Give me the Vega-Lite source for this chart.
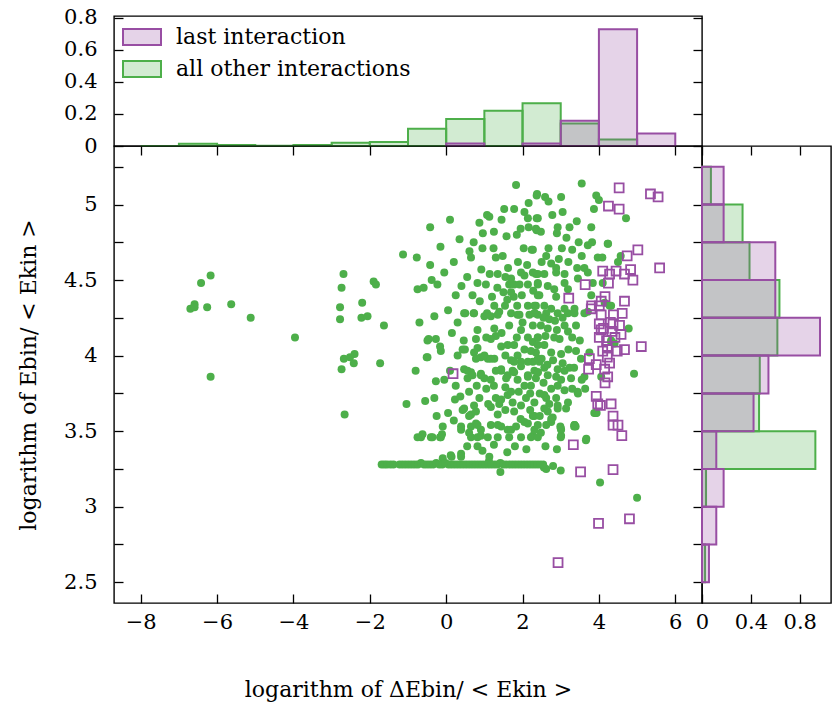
{
  "$schema": "https://vega.github.io/schema/vega-lite/v6.json",
  "autosize": {"type": "pad"},
  "padding": {"left": 16, "top": 5, "right": 2, "bottom": 10},
  "background": "white",
  "bounds": "flush",
  "spacing": 0,
  "config": {
    "font": "DejaVu Serif",
    "view": {"stroke": "black", "strokeWidth": 1.4},
    "axis": {
      "domain": false, "offset": -9, "tickColor": "black", "tickWidth": 1.3,
      "tickSize": 9, "labelColor": "black", "titleColor": "black",
      "labelFont": "DejaVu Serif", "titleFont": "DejaVu Serif",
      "labelFontSize": 21, "titleFontSize": 22, "titleFontWeight": "normal",
      "grid": false, "labelFlush": false, "labelOverlap": false, "labelBound": false
    },
    "legend": {"labelFont": "DejaVu Serif", "labelFontSize": 22, "labelColor": "black", "labelLimit": 500}
  },
  "datasets": {
    "tophist": [
      {"g": "all other interactions", "x0": -8, "x1": -7, "d": 0},
      {"g": "all other interactions", "x0": -7, "x1": -6, "d": 0.014},
      {"g": "all other interactions", "x0": -6, "x1": -5, "d": 0.006},
      {"g": "all other interactions", "x0": -5, "x1": -4, "d": 0.002},
      {"g": "all other interactions", "x0": -4, "x1": -3, "d": 0.006},
      {"g": "all other interactions", "x0": -3, "x1": -2, "d": 0.02},
      {"g": "all other interactions", "x0": -2, "x1": -1, "d": 0.025},
      {"g": "all other interactions", "x0": -1, "x1": 0, "d": 0.107},
      {"g": "all other interactions", "x0": 0, "x1": 1, "d": 0.168},
      {"g": "all other interactions", "x0": 1, "x1": 2, "d": 0.22},
      {"g": "all other interactions", "x0": 2, "x1": 3, "d": 0.267},
      {"g": "all other interactions", "x0": 3, "x1": 4, "d": 0.14},
      {"g": "all other interactions", "x0": 4, "x1": 5, "d": 0.041},
      {"g": "all other interactions", "x0": 5, "x1": 6, "d": 0},
      {"g": "last interaction", "x0": 0, "x1": 1, "d": 0.016},
      {"g": "last interaction", "x0": 2, "x1": 3, "d": 0.016},
      {"g": "last interaction", "x0": 3, "x1": 4, "d": 0.158},
      {"g": "last interaction", "x0": 4, "x1": 5, "d": 0.728},
      {"g": "last interaction", "x0": 5, "x1": 6, "d": 0.078}
    ],
    "sidehist": [
      {"g": "all other interactions", "y0": 5, "y1": 5.25, "d": 0.073},
      {"g": "all other interactions", "y0": 4.75, "y1": 5, "d": 0.332},
      {"g": "all other interactions", "y0": 4.5, "y1": 4.75, "d": 0.389},
      {"g": "all other interactions", "y0": 4.25, "y1": 4.5, "d": 0.634},
      {"g": "all other interactions", "y0": 4, "y1": 4.25, "d": 0.617},
      {"g": "all other interactions", "y0": 3.75, "y1": 4, "d": 0.473},
      {"g": "all other interactions", "y0": 3.5, "y1": 3.75, "d": 0.467},
      {"g": "all other interactions", "y0": 3.25, "y1": 3.5, "d": 0.928},
      {"g": "all other interactions", "y0": 3, "y1": 3.25, "d": 0.033},
      {"g": "all other interactions", "y0": 2.75, "y1": 3, "d": 0},
      {"g": "all other interactions", "y0": 2.5, "y1": 2.75, "d": 0.025},
      {"g": "last interaction", "y0": 5, "y1": 5.25, "d": 0.177},
      {"g": "last interaction", "y0": 4.75, "y1": 5, "d": 0.177},
      {"g": "last interaction", "y0": 4.5, "y1": 4.75, "d": 0.6},
      {"g": "last interaction", "y0": 4.25, "y1": 4.5, "d": 0.6},
      {"g": "last interaction", "y0": 4, "y1": 4.25, "d": 0.966},
      {"g": "last interaction", "y0": 3.75, "y1": 4, "d": 0.544},
      {"g": "last interaction", "y0": 3.5, "y1": 3.75, "d": 0.422},
      {"g": "last interaction", "y0": 3.25, "y1": 3.5, "d": 0.117},
      {"g": "last interaction", "y0": 3, "y1": 3.25, "d": 0.177},
      {"g": "last interaction", "y0": 2.75, "y1": 3, "d": 0.117},
      {"g": "last interaction", "y0": 2.5, "y1": 2.75, "d": 0.057}
    ],
    "last": [
      {"x": 4.53, "y": 5.11}, {"x": 5.35, "y": 5.07}, {"x": 5.55, "y": 5.05}, {"x": 4.25, "y": 4.99}, {"x": 4.53, "y": 4.97},
      {"x": 5.02, "y": 4.70}, {"x": 4.74, "y": 4.66}, {"x": 5.59, "y": 4.58}, {"x": 4.10, "y": 4.56}, {"x": 4.45, "y": 4.56},
      {"x": 4.83, "y": 4.57}, {"x": 4.28, "y": 4.54}, {"x": 4.67, "y": 4.54}, {"x": 4.89, "y": 4.50}, {"x": 4.25, "y": 4.48},
      {"x": 3.64, "y": 4.47}, {"x": 3.21, "y": 4.38}, {"x": 4.16, "y": 4.39}, {"x": 4.06, "y": 4.36}, {"x": 4.67, "y": 4.36},
      {"x": 3.81, "y": 4.33}, {"x": 4.01, "y": 4.33}, {"x": 4.06, "y": 4.27}, {"x": 4.38, "y": 4.27}, {"x": 4.61, "y": 4.28},
      {"x": 3.80, "y": 4.31}, {"x": 4.01, "y": 4.21}, {"x": 4.37, "y": 4.21}, {"x": 4.54, "y": 4.20}, {"x": 4.34, "y": 4.16},
      {"x": 4.06, "y": 4.17}, {"x": 4.01, "y": 4.12}, {"x": 4.22, "y": 4.06}, {"x": 4.48, "y": 4.03}, {"x": 4.67, "y": 4.04},
      {"x": 5.11, "y": 4.06}, {"x": 4.22, "y": 3.99}, {"x": 3.75, "y": 3.98}, {"x": 3.93, "y": 3.94}, {"x": 3.73, "y": 3.91},
      {"x": 4.15, "y": 3.91}, {"x": 4.23, "y": 3.86}, {"x": 4.16, "y": 3.82}, {"x": 3.93, "y": 3.73}, {"x": 3.97, "y": 3.68},
      {"x": 4.04, "y": 3.67}, {"x": 4.32, "y": 3.68}, {"x": 4.37, "y": 3.60}, {"x": 4.37, "y": 3.54}, {"x": 4.50, "y": 3.54},
      {"x": 4.60, "y": 3.47}, {"x": 3.33, "y": 3.41}, {"x": 3.52, "y": 3.23}, {"x": 4.37, "y": 3.245}, {"x": 0.18, "y": 3.88},
      {"x": 3.99, "y": 2.89}, {"x": 4.80, "y": 2.92}, {"x": 2.93, "y": 2.63}, {"x": 4.20, "y": 4.10}, {"x": 4.42, "y": 4.12},
      {"x": 4.10, "y": 4.03}, {"x": 4.30, "y": 4.22}, {"x": 4.58, "y": 4.14}, {"x": 4.12, "y": 4.18}, {"x": 4.28, "y": 3.95}
    ],
    "other": [
      {"x": -1.13, "y": 4.67}, {"x": -6.17, "y": 4.53}, {"x": -2.69, "y": 4.54}, {"x": -6.42, "y": 4.48}, {"x": -2.74, "y": 4.45},
      {"x": -1.90, "y": 4.49}, {"x": -1.84, "y": 4.47}, {"x": -6.59, "y": 4.34}, {"x": -6.70, "y": 4.31}, {"x": -6.59, "y": 4.32},
      {"x": -6.26, "y": 4.32}, {"x": -5.63, "y": 4.34}, {"x": -5.12, "y": 4.25}, {"x": -3.96, "y": 4.12}, {"x": -2.78, "y": 4.32},
      {"x": -2.78, "y": 4.24}, {"x": -2.20, "y": 4.35}, {"x": -2.22, "y": 4.25}, {"x": -2.06, "y": 4.26}, {"x": -1.63, "y": 4.20},
      {"x": -6.17, "y": 3.86}, {"x": -2.68, "y": 3.98}, {"x": -2.40, "y": 4.01}, {"x": -2.52, "y": 3.99}, {"x": -2.42, "y": 3.95},
      {"x": -2.74, "y": 3.91}, {"x": -1.73, "y": 3.95}, {"x": -2.66, "y": 3.61}, {"x": -1.04, "y": 3.68},
      {"x": -0.77, "y": 4.65}, {"x": -0.42, "y": 4.85}, {"x": -0.42, "y": 4.60}, {"x": -0.38, "y": 4.50}, {"x": -0.23, "y": 4.47},
      {"x": -0.75, "y": 4.44}, {"x": -0.59, "y": 4.45}, {"x": -0.31, "y": 4.26}, {"x": -0.49, "y": 4.10}, {"x": -0.27, "y": 4.11},
      {"x": -0.14, "y": 4.03}, {"x": -0.16, "y": 4.06}, {"x": -0.51, "y": 3.99}, {"x": -0.31, "y": 3.72}, {"x": -0.66, "y": 3.46},
      {"x": -0.36, "y": 3.46}, {"x": -0.16, "y": 3.46}, {"x": 0.12, "y": 3.34},
      {"x": 1.83, "y": 5.13}, {"x": 2.37, "y": 5.06}, {"x": 2.16, "y": 5.01}, {"x": 1.52, "y": 4.97}, {"x": 1.78, "y": 4.97},
      {"x": 1.07, "y": 4.93}, {"x": 1.13, "y": 4.92}, {"x": 1.45, "y": 4.90}, {"x": 0.87, "y": 4.88}, {"x": 2.14, "y": 4.91},
      {"x": 2.37, "y": 4.91}, {"x": 2.16, "y": 4.85}, {"x": 2.37, "y": 4.83}, {"x": 0.96, "y": 4.81}, {"x": 1.85, "y": 4.80},
      {"x": 0.61, "y": 4.69}, {"x": 0.65, "y": 4.65}, {"x": 0.95, "y": 4.71}, {"x": 1.24, "y": 4.71}, {"x": 1.30, "y": 4.65},
      {"x": 2.03, "y": 4.71}, {"x": 2.24, "y": 4.70}, {"x": 0.92, "y": 4.57}, {"x": 0.55, "y": 4.52}, {"x": 1.14, "y": 4.54},
      {"x": 1.35, "y": 4.54}, {"x": 2.12, "y": 4.60}, {"x": 1.96, "y": 4.55}, {"x": 2.05, "y": 4.53}, {"x": 0.82, "y": 4.48},
      {"x": 1.04, "y": 4.47}, {"x": 1.34, "y": 4.45}, {"x": 1.65, "y": 4.47}, {"x": 1.78, "y": 4.47}, {"x": 1.92, "y": 4.47},
      {"x": 2.14, "y": 4.47}, {"x": 2.40, "y": 4.47}, {"x": 2.35, "y": 4.54}, {"x": 0.69, "y": 4.40}, {"x": 1.20, "y": 4.39},
      {"x": 0.88, "y": 4.36}, {"x": 1.77, "y": 4.39}, {"x": 1.98, "y": 4.40}, {"x": 2.40, "y": 4.40}, {"x": 0.50, "y": 4.28},
      {"x": 0.73, "y": 4.28}, {"x": 1.07, "y": 4.28}, {"x": 1.26, "y": 4.33}, {"x": 1.39, "y": 4.29}, {"x": 1.54, "y": 4.33},
      {"x": 1.86, "y": 4.33}, {"x": 2.14, "y": 4.33}, {"x": 2.35, "y": 4.33}, {"x": 1.92, "y": 4.27}, {"x": 2.18, "y": 4.27},
      {"x": 2.40, "y": 4.27}, {"x": 1.70, "y": 4.42}, {"x": 1.60, "y": 4.37}, {"x": 2.28, "y": 4.43}, {"x": 1.50, "y": 4.42},
      {"x": 3.55, "y": 5.14}, {"x": 2.38, "y": 5.07}, {"x": 2.59, "y": 5.05}, {"x": 2.68, "y": 5.02}, {"x": 3.01, "y": 5.05},
      {"x": 3.93, "y": 5.06}, {"x": 4.00, "y": 5.03}, {"x": 3.87, "y": 4.97}, {"x": 4.71, "y": 4.91}, {"x": 2.40, "y": 4.91},
      {"x": 3.42, "y": 4.89}, {"x": 2.35, "y": 4.84}, {"x": 2.48, "y": 4.82}, {"x": 2.92, "y": 4.85}, {"x": 2.90, "y": 4.81},
      {"x": 3.23, "y": 4.85}, {"x": 3.80, "y": 4.85}, {"x": 3.47, "y": 4.75}, {"x": 3.71, "y": 4.73}, {"x": 3.82, "y": 4.75},
      {"x": 4.24, "y": 4.74}, {"x": 2.68, "y": 4.71}, {"x": 3.03, "y": 4.71}, {"x": 2.27, "y": 4.70}, {"x": 3.97, "y": 4.65},
      {"x": 4.09, "y": 4.65}, {"x": 4.57, "y": 4.66}, {"x": 4.50, "y": 4.62}, {"x": 2.88, "y": 4.58}, {"x": 2.88, "y": 4.55},
      {"x": 3.10, "y": 4.54}, {"x": 2.40, "y": 4.54}, {"x": 2.57, "y": 4.54}, {"x": 2.27, "y": 4.55}, {"x": 3.43, "y": 4.58},
      {"x": 3.62, "y": 4.58}, {"x": 3.71, "y": 4.55}, {"x": 3.45, "y": 4.51}, {"x": 3.84, "y": 4.48}, {"x": 4.10, "y": 4.48},
      {"x": 2.40, "y": 4.48}, {"x": 2.66, "y": 4.46}, {"x": 2.83, "y": 4.44}, {"x": 3.10, "y": 4.48}, {"x": 3.19, "y": 4.44},
      {"x": 2.44, "y": 4.40}, {"x": 2.88, "y": 4.39}, {"x": 3.80, "y": 4.40}, {"x": 2.31, "y": 4.33}, {"x": 2.57, "y": 4.33},
      {"x": 2.75, "y": 4.31}, {"x": 3.10, "y": 4.31}, {"x": 3.36, "y": 4.31}, {"x": 3.71, "y": 4.29}, {"x": 4.32, "y": 4.33},
      {"x": 4.78, "y": 4.18}, {"x": 4.32, "y": 4.09}, {"x": 4.92, "y": 3.88}, {"x": 3.75, "y": 4.02}, {"x": 3.53, "y": 3.98},
      {"x": 3.62, "y": 3.86}, {"x": 4.06, "y": 3.86}, {"x": 3.64, "y": 3.78}, {"x": 3.45, "y": 3.75}, {"x": 3.88, "y": 3.62},
      {"x": 3.67, "y": 3.45}, {"x": 3.36, "y": 3.54}, {"x": 2.99, "y": 3.53}, {"x": 3.01, "y": 3.47}, {"x": 2.66, "y": 3.63},
      {"x": 2.79, "y": 3.59}, {"x": 2.75, "y": 3.56}, {"x": 2.62, "y": 3.54}, {"x": 2.57, "y": 3.65}, {"x": 2.31, "y": 3.60},
      {"x": 2.27, "y": 3.47}, {"x": 2.48, "y": 3.49}, {"x": 3.19, "y": 3.69}, {"x": 3.14, "y": 3.65}, {"x": 2.92, "y": 3.65},
      {"x": 2.62, "y": 3.72}, {"x": 2.88, "y": 3.72}, {"x": 3.23, "y": 3.92}, {"x": 3.10, "y": 3.90}, {"x": 2.88, "y": 3.86},
      {"x": 3.01, "y": 3.84}, {"x": 3.27, "y": 3.85}, {"x": 2.75, "y": 3.78}, {"x": 2.92, "y": 3.80}, {"x": 2.40, "y": 3.89},
      {"x": 2.35, "y": 3.85}, {"x": 2.22, "y": 3.80}, {"x": 2.32, "y": 4.28}, {"x": 2.62, "y": 4.28}, {"x": 2.92, "y": 4.28},
      {"x": 3.19, "y": 4.28}, {"x": 3.36, "y": 4.28}, {"x": 3.62, "y": 4.28}, {"x": 2.48, "y": 4.20}, {"x": 2.66, "y": 4.18},
      {"x": 3.10, "y": 4.20}, {"x": 3.19, "y": 4.16}, {"x": 2.97, "y": 4.11}, {"x": 2.83, "y": 4.12}, {"x": 2.40, "y": 4.12},
      {"x": 2.27, "y": 4.09}, {"x": 2.57, "y": 4.07}, {"x": 2.75, "y": 4.02}, {"x": 3.01, "y": 4.01}, {"x": 2.35, "y": 4.02},
      {"x": 2.27, "y": 3.96}, {"x": 2.44, "y": 3.96}, {"x": 2.57, "y": 3.92}, {"x": 4.32, "y": 4.10}, {"x": 4.41, "y": 4.08},
      {"x": 3.91, "y": 3.62}, {"x": 4.03, "y": 3.16}, {"x": 5.00, "y": 3.06}, {"x": 4.15, "y": 4.35}, {"x": 4.28, "y": 4.33},
      {"x": 4.23, "y": 4.74}, {"x": 3.50, "y": 4.10}, {"x": 3.40, "y": 4.20},
      {"x": 0.47, "y": 4.28}, {"x": 0.72, "y": 4.28}, {"x": 1.00, "y": 4.26}, {"x": 1.17, "y": 4.26}, {"x": 1.35, "y": 4.27},
      {"x": 1.70, "y": 4.28}, {"x": 1.87, "y": 4.27}, {"x": 2.31, "y": 4.28}, {"x": 0.82, "y": 4.17}, {"x": 0.78, "y": 4.11},
      {"x": 1.26, "y": 4.18}, {"x": 1.30, "y": 4.13}, {"x": 1.17, "y": 4.11}, {"x": 1.96, "y": 4.17}, {"x": 2.27, "y": 4.20},
      {"x": 2.14, "y": 4.12}, {"x": 2.40, "y": 4.12}, {"x": -0.46, "y": 4.11}, {"x": 0.46, "y": 4.10}, {"x": 0.49, "y": 4.04},
      {"x": -0.49, "y": 3.99}, {"x": 0.82, "y": 4.05}, {"x": 0.91, "y": 3.99}, {"x": 1.09, "y": 3.98}, {"x": 1.26, "y": 3.98},
      {"x": 1.44, "y": 4.06}, {"x": 1.61, "y": 4.07}, {"x": 1.78, "y": 4.07}, {"x": 1.87, "y": 4.00}, {"x": 2.05, "y": 4.04},
      {"x": 2.22, "y": 4.03}, {"x": 2.40, "y": 4.07}, {"x": 2.40, "y": 3.98}, {"x": 2.14, "y": 3.96}, {"x": 1.96, "y": 3.96},
      {"x": 1.78, "y": 3.96}, {"x": 0.47, "y": 3.91}, {"x": 0.65, "y": 3.89}, {"x": 0.56, "y": 3.85}, {"x": 0.91, "y": 3.88},
      {"x": 1.00, "y": 3.85}, {"x": 1.17, "y": 3.84}, {"x": 1.44, "y": 3.90}, {"x": 1.57, "y": 3.85}, {"x": 1.74, "y": 3.90},
      {"x": 1.87, "y": 3.84}, {"x": 2.14, "y": 3.86}, {"x": 2.31, "y": 3.90}, {"x": -0.27, "y": 3.83}, {"x": -0.05, "y": 3.84},
      {"x": 0.23, "y": 3.71}, {"x": 0.37, "y": 3.73}, {"x": 0.87, "y": 3.72}, {"x": 0.73, "y": 3.67}, {"x": 0.47, "y": 3.65},
      {"x": 0.65, "y": 3.61}, {"x": 1.17, "y": 3.66}, {"x": 1.30, "y": 3.72}, {"x": 1.39, "y": 3.68}, {"x": 1.61, "y": 3.74},
      {"x": 1.74, "y": 3.69}, {"x": 1.35, "y": 3.61}, {"x": 1.78, "y": 3.63}, {"x": 2.09, "y": 3.72}, {"x": 2.27, "y": 3.60},
      {"x": -0.09, "y": 3.53}, {"x": 0.39, "y": 3.51}, {"x": 0.65, "y": 3.53}, {"x": 0.78, "y": 3.55}, {"x": 0.91, "y": 3.51},
      {"x": 1.17, "y": 3.54}, {"x": 1.44, "y": 3.53}, {"x": 1.61, "y": 3.51}, {"x": 1.83, "y": 3.53}, {"x": 2.14, "y": 3.55},
      {"x": 2.31, "y": 3.51}, {"x": -0.62, "y": 3.48}, {"x": -0.40, "y": 3.46}, {"x": -0.14, "y": 3.46}, {"x": -0.75, "y": 3.46},
      {"x": 0.65, "y": 3.46}, {"x": 0.82, "y": 3.46}, {"x": 1.09, "y": 3.46}, {"x": 1.65, "y": 3.46}, {"x": 1.96, "y": 3.46},
      {"x": 2.22, "y": 3.46}, {"x": 2.40, "y": 3.46}, {"x": 0.82, "y": 3.40}, {"x": 0.39, "y": 3.35}, {"x": -0.09, "y": 3.32},
      {"x": 1.13, "y": 3.33}, {"x": 1.42, "y": 3.23}, {"x": 1.12, "y": 3.30}, {"x": -0.11, "y": 3.48},
      {"x": 0.43, "y": 4.04}, {"x": 0.73, "y": 4.02}, {"x": 0.78, "y": 3.98}, {"x": 1.00, "y": 4.00}, {"x": 1.17, "y": 3.98},
      {"x": 0.56, "y": 3.90}, {"x": 0.69, "y": 3.87}, {"x": 0.91, "y": 3.87}, {"x": 0.43, "y": 3.64}, {"x": 0.60, "y": 3.60},
      {"x": 0.78, "y": 3.63}, {"x": 0.39, "y": 3.53}, {"x": 0.60, "y": 3.49}, {"x": 0.82, "y": 3.54}, {"x": 0.91, "y": 3.47},
      {"x": 1.35, "y": 3.46}, {"x": 1.44, "y": 3.91}, {"x": 1.61, "y": 3.87}, {"x": 1.78, "y": 3.89}, {"x": 1.96, "y": 3.93},
      {"x": 2.14, "y": 3.87}, {"x": 2.40, "y": 3.89}, {"x": 2.66, "y": 3.87}, {"x": 2.92, "y": 3.91}, {"x": 1.44, "y": 3.71},
      {"x": 1.70, "y": 3.76}, {"x": 1.96, "y": 3.67}, {"x": 2.31, "y": 3.69}, {"x": 2.57, "y": 3.74}, {"x": 2.92, "y": 3.67},
      {"x": 1.35, "y": 3.54}, {"x": 1.70, "y": 3.51}, {"x": 2.05, "y": 3.56}, {"x": 2.40, "y": 3.54}, {"x": 2.75, "y": 3.58},
      {"x": 3.01, "y": 3.51}, {"x": 3.36, "y": 3.54}, {"x": 2.80, "y": 3.27}, {"x": 3.00, "y": 3.24}, {"x": 3.66, "y": 3.44},
      {"x": 3.44, "y": 3.76}, {"x": 3.35, "y": 3.53}, {"x": 3.39, "y": 3.53}, {"x": 3.00, "y": 3.46}, {"x": 3.00, "y": 3.52},
      {"x": 3.94, "y": 3.62}, {"x": 2.56, "y": 3.26}, {"x": 2.62, "y": 3.25}, {"x": 0.14, "y": 3.33}, {"x": 0.39, "y": 3.33},
      {"x": 1.55, "y": 4.52}, {"x": 1.62, "y": 4.58}, {"x": 1.70, "y": 4.51}, {"x": 1.88, "y": 4.62}, {"x": 1.48, "y": 4.66},
      {"x": 1.58, "y": 4.79}, {"x": 1.95, "y": 4.84}, {"x": 2.05, "y": 4.95}, {"x": 1.25, "y": 4.82}, {"x": 0.72, "y": 4.75},
      {"x": 2.50, "y": 4.62}, {"x": 2.62, "y": 4.66}, {"x": 2.75, "y": 4.61}, {"x": 2.95, "y": 4.64}, {"x": 3.20, "y": 4.62},
      {"x": 3.30, "y": 4.70}, {"x": 3.55, "y": 4.66}, {"x": 3.15, "y": 4.78}, {"x": 2.78, "y": 4.93}, {"x": 3.05, "y": 4.95},
      {"x": 2.55, "y": 4.25}, {"x": 2.70, "y": 4.24}, {"x": 2.85, "y": 4.23}, {"x": 3.05, "y": 4.25}, {"x": 2.60, "y": 4.13},
      {"x": 2.90, "y": 4.17}, {"x": 3.30, "y": 4.12}, {"x": 3.40, "y": 4.03}, {"x": 3.20, "y": 4.04}, {"x": 2.50, "y": 3.98},
      {"x": 2.65, "y": 3.94}, {"x": 2.80, "y": 3.97}, {"x": 3.05, "y": 3.95}, {"x": 3.35, "y": 3.92}, {"x": 3.55, "y": 3.84},
      {"x": 3.30, "y": 3.78}, {"x": 3.10, "y": 3.77}, {"x": 2.55, "y": 3.82}, {"x": 2.45, "y": 3.75}, {"x": 2.20, "y": 3.75},
      {"x": 2.05, "y": 3.80}, {"x": 1.90, "y": 3.76}, {"x": 1.55, "y": 3.79}, {"x": 1.25, "y": 3.80}, {"x": 1.05, "y": 3.78},
      {"x": 0.80, "y": 3.80}, {"x": 0.60, "y": 3.76}, {"x": 0.25, "y": 3.80}, {"x": 0.10, "y": 3.90}, {"x": 0.30, "y": 4.00},
      {"x": 0.15, "y": 4.15}, {"x": 0.30, "y": 4.22}, {"x": 0.05, "y": 4.30}, {"x": 0.25, "y": 4.40}, {"x": 0.40, "y": 4.46},
      {"x": -0.05, "y": 4.55}, {"x": 0.20, "y": 4.62}, {"x": 0.35, "y": 4.77}, {"x": 0.10, "y": 4.90}, {"x": -0.15, "y": 4.72},
      {"x": 1.05, "y": 4.12}, {"x": 1.45, "y": 4.15}, {"x": 1.65, "y": 4.20}, {"x": 1.85, "y": 4.12}, {"x": 2.00, "y": 4.22},
      {"x": 1.55, "y": 4.00}, {"x": 1.70, "y": 3.97}, {"x": 1.30, "y": 3.90}, {"x": 1.10, "y": 3.68}, {"x": 1.55, "y": 3.64},
      {"x": 1.95, "y": 3.58}, {"x": 2.20, "y": 3.64}, {"x": 2.45, "y": 3.60}, {"x": 2.70, "y": 3.68}, {"x": 0.20, "y": 3.57},
      {"x": 0.05, "y": 3.62}, {"x": -0.25, "y": 3.60}, {"x": -0.55, "y": 3.70}, {"x": -0.80, "y": 3.90}, {"x": -0.70, "y": 4.22},
      {"x": 0.55, "y": 3.40}, {"x": 1.25, "y": 3.41}, {"x": 1.80, "y": 3.40}, {"x": 2.10, "y": 3.38}, {"x": 2.60, "y": 3.40},
      {"x": 2.90, "y": 3.38}, {"x": 1.60, "y": 3.36}, {"x": 0.95, "y": 3.37},
      {"x": -1.69, "y": 3.28}, {"x": -1.62, "y": 3.28}, {"x": -1.55, "y": 3.28}, {"x": -1.46, "y": 3.28}, {"x": -1.38, "y": 3.28},
      {"x": -1.22, "y": 3.28}, {"x": -1.14, "y": 3.28}, {"x": -1.06, "y": 3.28}, {"x": -0.98, "y": 3.28}, {"x": -0.90, "y": 3.28},
      {"x": -0.82, "y": 3.28}, {"x": -0.74, "y": 3.28}, {"x": -0.66, "y": 3.29}, {"x": -0.58, "y": 3.28}, {"x": -0.50, "y": 3.28},
      {"x": -0.42, "y": 3.28}, {"x": -0.34, "y": 3.28}, {"x": -0.26, "y": 3.29}, {"x": -0.18, "y": 3.28}, {"x": -0.10, "y": 3.28},
      {"x": -0.02, "y": 3.29}, {"x": 0.06, "y": 3.28}, {"x": 0.14, "y": 3.28}, {"x": 0.22, "y": 3.28}, {"x": 0.30, "y": 3.28},
      {"x": 0.38, "y": 3.28}, {"x": 0.46, "y": 3.28}, {"x": 0.54, "y": 3.28}, {"x": 0.62, "y": 3.28}, {"x": 0.70, "y": 3.28},
      {"x": 0.78, "y": 3.28}, {"x": 0.86, "y": 3.28}, {"x": 0.94, "y": 3.28}, {"x": 1.02, "y": 3.28}, {"x": 1.10, "y": 3.28},
      {"x": 1.18, "y": 3.28}, {"x": 1.26, "y": 3.28}, {"x": 1.34, "y": 3.28}, {"x": 1.42, "y": 3.29}, {"x": 1.50, "y": 3.28},
      {"x": 1.58, "y": 3.28}, {"x": 1.66, "y": 3.28}, {"x": 1.74, "y": 3.28}, {"x": 1.82, "y": 3.28}, {"x": 1.90, "y": 3.28},
      {"x": 1.98, "y": 3.28}, {"x": 2.06, "y": 3.28}, {"x": 2.14, "y": 3.28}, {"x": 2.22, "y": 3.28}, {"x": 2.30, "y": 3.28},
      {"x": 2.38, "y": 3.28}, {"x": 2.46, "y": 3.28}, {"x": 2.54, "y": 3.28}
    ]
  },
  "vconcat": [
    {
      "width": 588,
      "height": 130,
      "layer": [
        {
          "data": {"name": "tophist"},
          "mark": {"type": "rect", "fillOpacity": 0.25, "strokeWidth": 2},
          "encoding": {
            "x": {"field": "x0", "type": "quantitative", "scale": {"domain": [-8.7, 6.7], "nice": false, "zero": false}, "axis": {"labels": false, "ticks": false, "title": null}},
            "x2": {"field": "x1"},
            "y": {"field": "d", "type": "quantitative", "scale": {"domain": [0, 0.81], "nice": false}, "axis": {"values": [0, 0.2, 0.4, 0.6, 0.8], "labelExpr": "format(datum.value, '')", "labelPadding": 17, "title": null}},
            "y2": {"datum": 0},
            "fill": {"field": "g", "type": "nominal", "scale": {"domain": ["last interaction", "all other interactions"], "range": ["#984ea3", "#4daf4a"]},
              "legend": {"orient": "top-left", "title": null, "offset": 1, "padding": 0, "symbolType": "M-1,-0.42H1V0.42H-1Z", "symbolSize": 1444, "symbolStrokeWidth": 2, "symbolOffset": 7, "labelOffset": 14, "rowPadding": -2, "encode": {"symbols": {"update": {"fillOpacity": {"value": 0.25}}}}}},
            "stroke": {"field": "g", "type": "nominal", "scale": {"domain": ["last interaction", "all other interactions"], "range": ["#984ea3", "#4daf4a"]},
              "legend": {"orient": "top-left", "title": null, "offset": 1, "padding": 0, "symbolType": "M-1,-0.42H1V0.42H-1Z", "symbolSize": 1444, "symbolStrokeWidth": 2, "symbolOffset": 7, "labelOffset": 14, "rowPadding": -2, "encode": {"symbols": {"update": {"fillOpacity": {"value": 0.25}}}}}}
          }
        },
        {
          "data": {"name": "tophist"},
          "mark": {"type": "rect", "opacity": 0},
          "encoding": {
            "x": {"field": "x0", "type": "quantitative", "scale": {"domain": [-8.7, 6.7], "nice": false, "zero": false}, "axis": {"orient": "top", "labels": false, "ticks": false, "title": null}},
            "x2": {"field": "x1"},
            "y": {"field": "d", "type": "quantitative", "scale": {"domain": [0, 0.81], "nice": false}, "axis": {"orient": "right", "values": [0, 0.2, 0.4, 0.6, 0.8], "labels": false, "title": null}},
            "y2": {"datum": 0}
          }
        }
      ],
      "resolve": {"axis": {"x": "independent", "y": "independent"}}
    },
    {
      "hconcat": [
        {
          "width": 588,
          "height": 457,
          "layer": [
            {
              "data": {"name": "other"},
              "mark": {"type": "point", "shape": "circle", "filled": true, "size": 64, "color": "#4daf4a", "opacity": 1},
              "encoding": {
                "x": {"field": "x", "type": "quantitative", "scale": {"domain": [-8.7, 6.7], "nice": false, "zero": false},
                  "axis": {"values": [-8, -6, -4, -2, 0, 2, 4, 6], "labelPadding": 8, "title": "logarithm of ΔEbin/ < Ekin >", "titlePadding": 47}},
                "y": {"field": "y", "type": "quantitative", "scale": {"domain": [2.3625, 5.3875], "nice": false, "zero": false},
                  "axis": {"values": [2.5, 2.75, 3, 3.25, 3.5, 3.75, 4, 4.25, 4.5, 4.75, 5, 5.25], "labelExpr": "datum.value % 0.5 === 0 ? format(datum.value, '') : ''", "labelPadding": 17, "title": "logarithm of Ebin/ < Ekin >", "titlePadding": 23}}
              }
            },
            {
              "data": {"name": "last"},
              "mark": {"type": "point", "shape": "square", "filled": false, "size": 80, "strokeWidth": 1.8, "color": "#984ea3", "opacity": 1},
              "encoding": {
                "x": {"field": "x", "type": "quantitative", "scale": {"domain": [-8.7, 6.7], "nice": false, "zero": false},
                  "axis": {"orient": "top", "values": [-8, -6, -4, -2, 0, 2, 4, 6], "labels": false, "title": null}},
                "y": {"field": "y", "type": "quantitative", "scale": {"domain": [2.3625, 5.3875], "nice": false, "zero": false},
                  "axis": {"orient": "right", "values": [2.5, 2.75, 3, 3.25, 3.5, 3.75, 4, 4.25, 4.5, 4.75, 5, 5.25], "labels": false, "title": null}}
              }
            }
          ],
          "resolve": {"axis": {"x": "independent", "y": "independent"}}
        },
        {
          "width": 129,
          "height": 457,
          "layer": [
            {
              "data": {"name": "sidehist"},
              "mark": {"type": "rect", "fillOpacity": 0.25, "strokeWidth": 2},
              "encoding": {
                "y": {"field": "y0", "type": "quantitative", "scale": {"domain": [2.3625, 5.3875], "nice": false, "zero": false}, "axis": null},
                "y2": {"field": "y1"},
                "x": {"field": "d", "type": "quantitative", "scale": {"domain": [0, 1.056], "nice": false}, "axis": {"values": [0, 0.4, 0.8], "labelExpr": "format(datum.value, '')", "labelPadding": 8, "title": null}},
                "x2": {"datum": 0},
                "fill": {"field": "g", "type": "nominal", "scale": {"domain": ["last interaction", "all other interactions"], "range": ["#984ea3", "#4daf4a"]}, "legend": null},
                "stroke": {"field": "g", "type": "nominal", "scale": {"domain": ["last interaction", "all other interactions"], "range": ["#984ea3", "#4daf4a"]}, "legend": null}
              }
            },
            {
              "data": {"name": "sidehist"},
              "mark": {"type": "rect", "opacity": 0},
              "encoding": {
                "y": {"field": "y0", "type": "quantitative", "scale": {"domain": [2.3625, 5.3875], "nice": false, "zero": false}, "axis": null},
                "y2": {"field": "y1"},
                "x": {"field": "d", "type": "quantitative", "scale": {"domain": [0, 1.056], "nice": false}, "axis": {"orient": "top", "values": [0, 0.4, 0.8], "labels": false, "title": null}},
                "x2": {"datum": 0}
              }
            }
          ],
          "resolve": {"axis": {"x": "independent"}}
        }
      ],
      "spacing": 0,
      "bounds": "flush"
    }
  ]
}
